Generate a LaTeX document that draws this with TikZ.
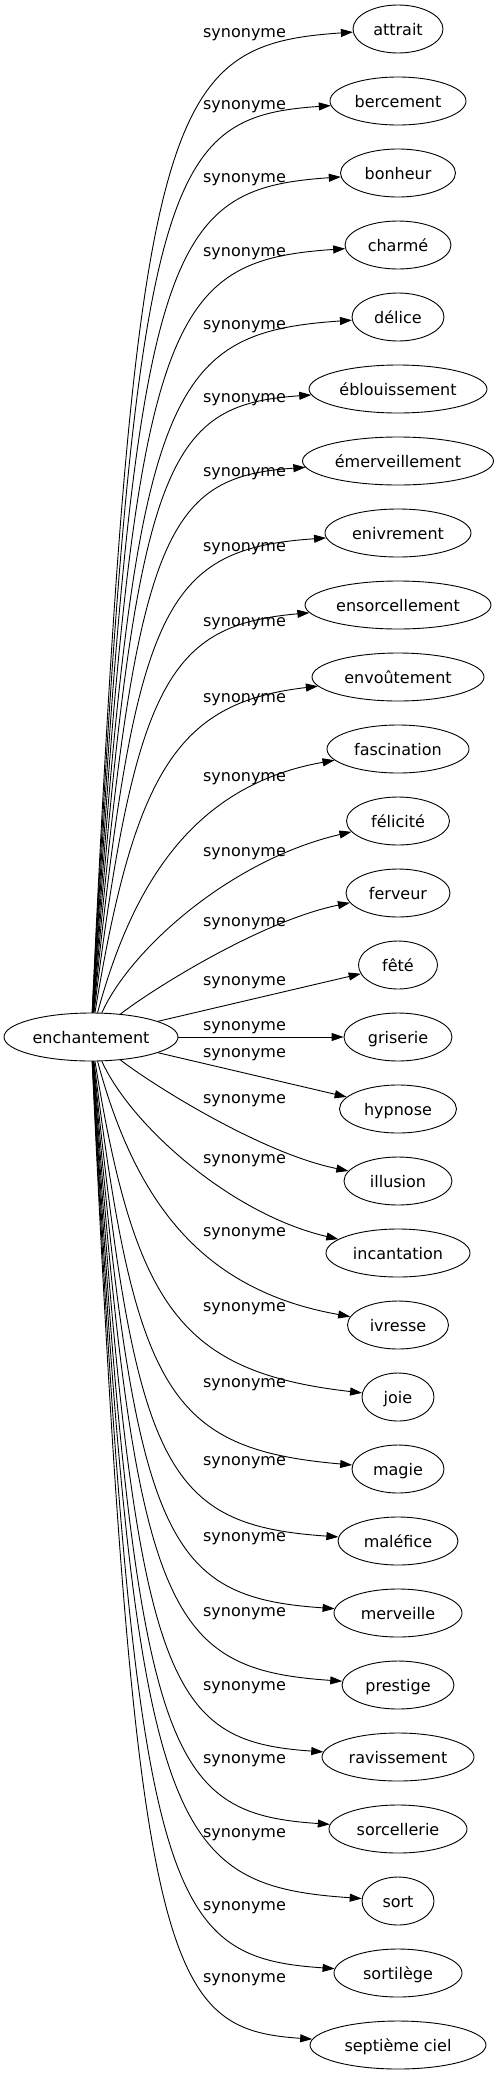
\documentclass[tikz,border=0pt]{standalone}
\usepackage{fontspec}
\setmainfont{DejaVu Sans}
\usetikzlibrary{shapes.geometric}
\usetikzlibrary{arrows.meta}
\tikzstyle{Word}=[ellipse,draw=black,line width=0.9pt,inner sep=0pt,
minimum height=48pt,text height=12pt,text depth=0pt,
font=\fontsize{16}{19}\selectfont]
\tikzstyle{Edge}=[draw=black,line width=0.9pt,
-{Triangle[length=12pt,width=8pt]}]
\tikzstyle{Rel}=[inner sep=0pt,text height=12pt,text depth=0pt,
font=\fontsize{16}{19}\selectfont]

\begin{document}
\begin{tikzpicture}[x=1pt,y=-1pt]
            \useasboundingbox(0,0)rectangle(499,2075);
            \node[Word,minimum width=174pt](e)at(91,1037){enchantement};
            %
            \node[Word,minimum width=90pt](attrait)at(398,29){attrait};
            \node[Word,minimum width=136pt](bercement)at(398,101){bercement};
            \node[Word,minimum width=115pt](bonheur)at(398,173){bonheur};
            \node[Word,minimum width=106pt](charme)at(398,245){charmé};
            \node[Word,minimum width=92pt](delice)at(398,317){délice};
            \node[Word,minimum width=178pt](eblouissement)at(398,389)
                {éblouissement};
            \node[Word,minimum width=191pt](emerveillement)at(398,461)
                {émerveillement};
            \node[Word,minimum width=146pt](enivrement)at(398,533){enivrement};
            \node[Word,minimum width=186pt](ensorcellement)at(398,605)
                {ensorcellement};
            \node[Word,minimum width=172pt](envoutement)at(398,677)
                {envoûtement};
            \node[Word,minimum width=142pt](fascination)at(398,749)
                {fascination};
            \node[Word,minimum width=103pt](felicite)at(398,821){félicité};
            \node[Word,minimum width=104pt](ferveur)at(398,893){ferveur};
            \node[Word,minimum width=79pt](fete)at(398,965){fêté};
            \node[Word,minimum width=108pt](griserie)at(398,1037){griserie};
            \node[Word,minimum width=117pt](hypnose)at(398,1109){hypnose};
            \node[Word,minimum width=108pt](illusion)at(398,1181){illusion};
            \node[Word,minimum width=144pt](incantation)at(398,1253)
                {incantation};
            \node[Word,minimum width=101pt](ivresse)at(398,1325){ivresse};
            \node[Word,minimum width=72pt](joie)at(398,1397){joie};
            \node[Word,minimum width=92pt](magie)at(398,1469){magie};
            \node[Word,minimum width=120pt](malefice)at(398,1541){maléfice};
            \node[Word,minimum width=128pt](merveille)at(398,1613){merveille};
            \node[Word,minimum width=112pt](prestige)at(398,1685){prestige};
            \node[Word,minimum width=152pt](ravissement)at(398,1757)
                {ravissement};
            \node[Word,minimum width=138pt](sorcellerie)at(398,1829)
                {sorcellerie};
            \node[Word,minimum width=72pt](sort)at(398,1901){sort};
            \node[Word,minimum width=128pt](sortilege)at(398,1973){sortilège};
            \node[Word,minimum width=176pt](septieme)at(398,2045)
                {septième ciel};
            %
            \draw[Edge](e)..controls(135,100)and(165,45)..(attrait);
            \draw[Edge](e)..controls(135,172)and(165,117)..(bercement);
            \draw[Edge](e)..controls(135,244)and(165,189)..(bonheur);
            \draw[Edge](e)..controls(135,316)and(165,261)..(charme);
            \draw[Edge](e)..controls(135,388)and(165,333)..(delice);
            \draw[Edge](e)..controls(135,460)and(165,405)..(eblouissement);
            \draw[Edge](e)..controls(135,532)and(165,477)..(emerveillement);
            \draw[Edge](e)..controls(135,604)and(165,549)..(enivrement);
            \draw[Edge](e)..controls(135,680)and(170,625)..(ensorcellement);
            \draw[Edge](e)..controls(135,767)and(180,702)..(envoutement);
            \draw[Edge](e)..controls(135,874)and(200,784)..(fascination);
            \draw[Edge](e)..controls(130,950)and(230,860)..(felicite);
            \draw[Edge](e)..controls(150,991)and(260,921)..(ferveur);
            \draw[Edge](e)--(fete);
            \draw[Edge](e)--(griserie);
            \draw[Edge](e)--(hypnose);
            \draw[Edge](e)..controls(150,1083)and(260,1153)..(illusion);
            \draw[Edge](e)..controls(130,1124)and(230,1214)..(incantation);
            \draw[Edge](e)..controls(135,1200)and(200,1290)..(ivresse);
            \draw[Edge](e)..controls(135,1307)and(180,1372)..(joie);
            \draw[Edge](e)..controls(135,1394)and(170,1449)..(magie);
            \draw[Edge](e)..controls(135,1470)and(165,1525)..(malefice);
            \draw[Edge](e)..controls(135,1542)and(165,1597)..(merveille);
            \draw[Edge](e)..controls(135,1614)and(165,1669)..(prestige);
            \draw[Edge](e)..controls(135,1686)and(165,1741)..(ravissement);
            \draw[Edge](e)..controls(135,1758)and(165,1813)..(sorcellerie);
            \draw[Edge](e)..controls(135,1830)and(165,1885)..(sort);
            \draw[Edge](e)..controls(135,1902)and(165,1957)..(sortilege);
            \draw[Edge](e)..controls(135,1974)and(165,2029)..(septieme);
            %
            \node[Rel](l0)at(244.5,31){synonyme};
            \node[Rel](l1)at(244.5,103){synonyme};
            \node[Rel](l2)at(244.5,176){synonyme};
            \node[Rel](l3)at(244.5,250){synonyme};
            \node[Rel](l4)at(244.5,323){synonyme};
            \node[Rel](l5)at(244.5,396){synonyme};
            \node[Rel](l6)at(244.5,470){synonyme};
            \node[Rel](l7)at(244.5,545){synonyme};
            \node[Rel](l8)at(244.5,620){synonyme};
            \node[Rel](l9)at(244.5,696){synonyme};
            \node[Rel](l10)at(244.5,775){synonyme};
            \node[Rel](l11)at(244.5,850){synonyme};
            \node[Rel](l12)at(244.5,920){synonyme};
            \node[Rel](l13)at(244.5,979){synonyme};
            \node[Rel](l14)at(244.5,1024){synonyme};
            \node[Rel](l15)at(244.5,1051){synonyme};
            \node[Rel](l16)at(244.5,1097){synonyme};
            \node[Rel](l17)at(244.5,1157){synonyme};
            \node[Rel](l18)at(244.5,1230){synonyme};
            \node[Rel](l19)at(244.5,1305){synonyme};
            \node[Rel](l20)at(244.5,1381){synonyme};
            \node[Rel](l21)at(244.5,1459){synonyme};
            \node[Rel](l22)at(244.5,1535){synonyme};
            \node[Rel](l23)at(244.5,1610){synonyme};
            \node[Rel](l24)at(244.5,1684){synonyme};
            \node[Rel](l25)at(244.5,1757){synonyme};
            \node[Rel](l26)at(244.5,1831){synonyme};
            \node[Rel](l27)at(244.5,1904){synonyme};
            \node[Rel](l28)at(244.5,1976){synonyme};
        \end{tikzpicture}
\end{document}
